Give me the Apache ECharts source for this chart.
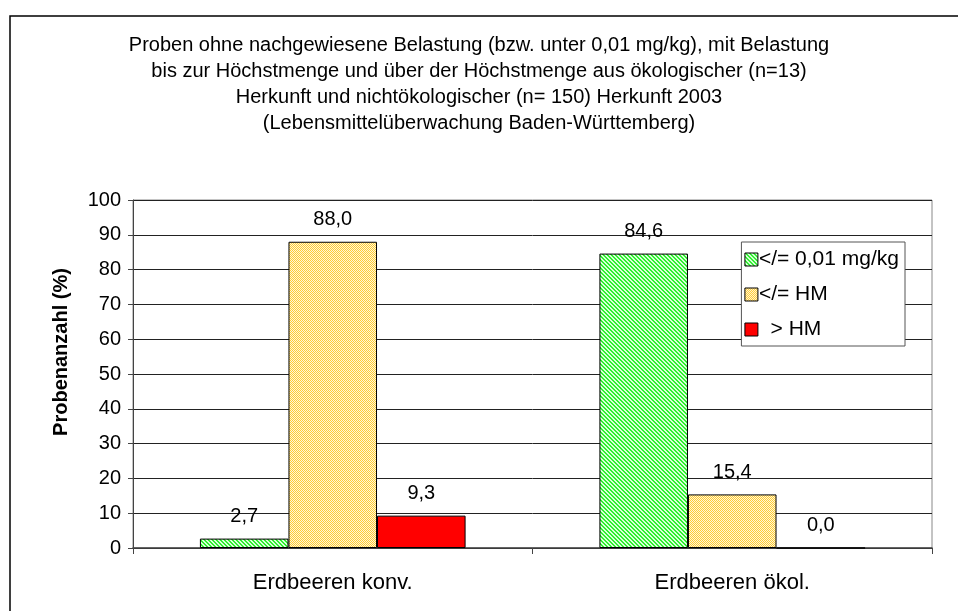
<!DOCTYPE html>
<html>
<head>
<meta charset="utf-8">
<script src="https://cdn.jsdelivr.net/npm/echarts@6/dist/echarts.min.js"></script>
<style>
html,body{margin:0;padding:0;background:#fff;}
#chart{width:958px;height:611px;}
</style>
</head>
<body>
<div id="chart"></div>
<script>
const titleText = 'Proben ohne nachgewiesene Belastung (bzw. unter 0,01 mg/kg), mit Belastung\nbis zur Höchstmenge und über der Höchstmenge aus ökologischer (n=13)\nHerkunft und nichtökologischer (n= 150) Herkunft 2003\n(Lebensmittelüberwachung Baden-Württemberg)';
const categories = ['Erdbeeren konv.', 'Erdbeeren ökol.'];
const seriesNames = ['</= 0,01 mg/kg', '</= HM', '  > HM'];
const valuesBelow001 = [2.7, 84.6];
const valuesBelowHM = [88.0, 15.4];
const valuesAboveHM = [9.3, 0.0];
const yTicks = [0, 10, 20, 30, 40, 50, 60, 70, 80, 90, 100];

function makePattern(base, dot, kind) {
  const c = document.createElement('canvas');
  c.width = 4; c.height = 4;
  const ctx = c.getContext('2d');
  ctx.fillStyle = base;
  ctx.fillRect(0, 0, 4, 4);
  ctx.fillStyle = dot;
  if (kind === 'diag') {
    for (let i = 0; i < 4; i++) {
      ctx.fillRect(i % 4, i, 1, 1);
      ctx.fillRect((i + 1) % 4, i, 1, 1);
    }
  } else {
    for (let y = 0; y < 4; y++) for (let x = 0; x < 4; x++) {
      if ((x + y) % 2 === 0) ctx.fillRect(x, y, 1, 1);
    }
  }
  return { image: c, repeat: 'repeat' };
}

const greenPat = makePattern('#d8ffd8', '#2ef02e', 'diag');
const yellowPat = makePattern('#fff6d8', '#ffcc33', 'check');

const chart = echarts.init(document.getElementById('chart'), null, { renderer: 'canvas' });
const fontFam = 'Arial, "Liberation Sans", sans-serif';
const fmt = p => p.value.toFixed(1).replace('.', ',');

function bar(name, data, color) {
  return {
    name: name,
    type: 'bar',
    data: data,
    barGap: '0%',
    barCategoryGap: '33.5%',
    itemStyle: { color: color, borderColor: '#000', borderWidth: 1 },
    label: {
      show: true, position: 'top', distance: 12,
      formatter: fmt, color: '#000', fontSize: 20, fontFamily: fontFam
    }
  };
}

chart.setOption({
  animation: false,
  backgroundColor: '#fff',
  title: {
    text: titleText,
    left: 'center', top: 27,
    textStyle: { fontSize: 20, fontWeight: 'normal', color: '#000', fontFamily: fontFam, lineHeight: 26 }
  },
  graphic: [{
    type: 'rect', z: 100, silent: true,
    shape: { x: 10, y: 16, width: 960, height: 620 },
    style: { fill: 'none', stroke: '#000', lineWidth: 1.5 }
  }],
  legend: {
    right: 53, top: 242, orient: 'vertical',
    itemWidth: 13, itemHeight: 13, itemGap: 14,
    padding: [7, 6, 6, 3],
    borderColor: '#555', borderWidth: 1, backgroundColor: '#fff',
    icon: 'rect',
    itemStyle: { borderColor: '#000', borderWidth: 1 },
    textStyle: { fontSize: 21, color: '#000', fontFamily: fontFam, padding: [0, 0, 0, -4] },
    data: seriesNames
  },
  grid: { left: 133, right: 26, top: 200, bottom: 63, show: true, borderColor: '#888', borderWidth: 1 },
  xAxis: {
    type: 'category', data: categories,
    axisLine: { lineStyle: { color: '#444', width: 1.5 } },
    axisTick: { show: true, length: 6, lineStyle: { color: '#444' } },
    axisLabel: { fontSize: 22, color: '#000', fontFamily: fontFam, margin: 24 }
  },
  yAxis: {
    type: 'value', min: 0, max: 100, interval: 10,
    name: 'Probenanzahl (%)', nameLocation: 'middle', nameGap: 62,
    nameTextStyle: { fontSize: 20, fontWeight: 'bold', color: '#000', fontFamily: fontFam, padding: [0, 0, 0, 44] },
    axisLine: { show: true, lineStyle: { color: '#444', width: 1 } },
    axisTick: { show: true, length: 5, lineStyle: { color: '#444' } },
    axisLabel: { fontSize: 20, color: '#000', fontFamily: fontFam, margin: 12,
      formatter: v => yTicks.includes(v) ? String(v) : '' },
    splitLine: { show: true, lineStyle: { color: '#222', width: 1 } }
  },
  series: [
    bar(seriesNames[0], valuesBelow001, greenPat),
    bar(seriesNames[1], valuesBelowHM, yellowPat),
    bar(seriesNames[2], valuesAboveHM, '#ff0000')
  ]
});
</script>
</body>
</html>
